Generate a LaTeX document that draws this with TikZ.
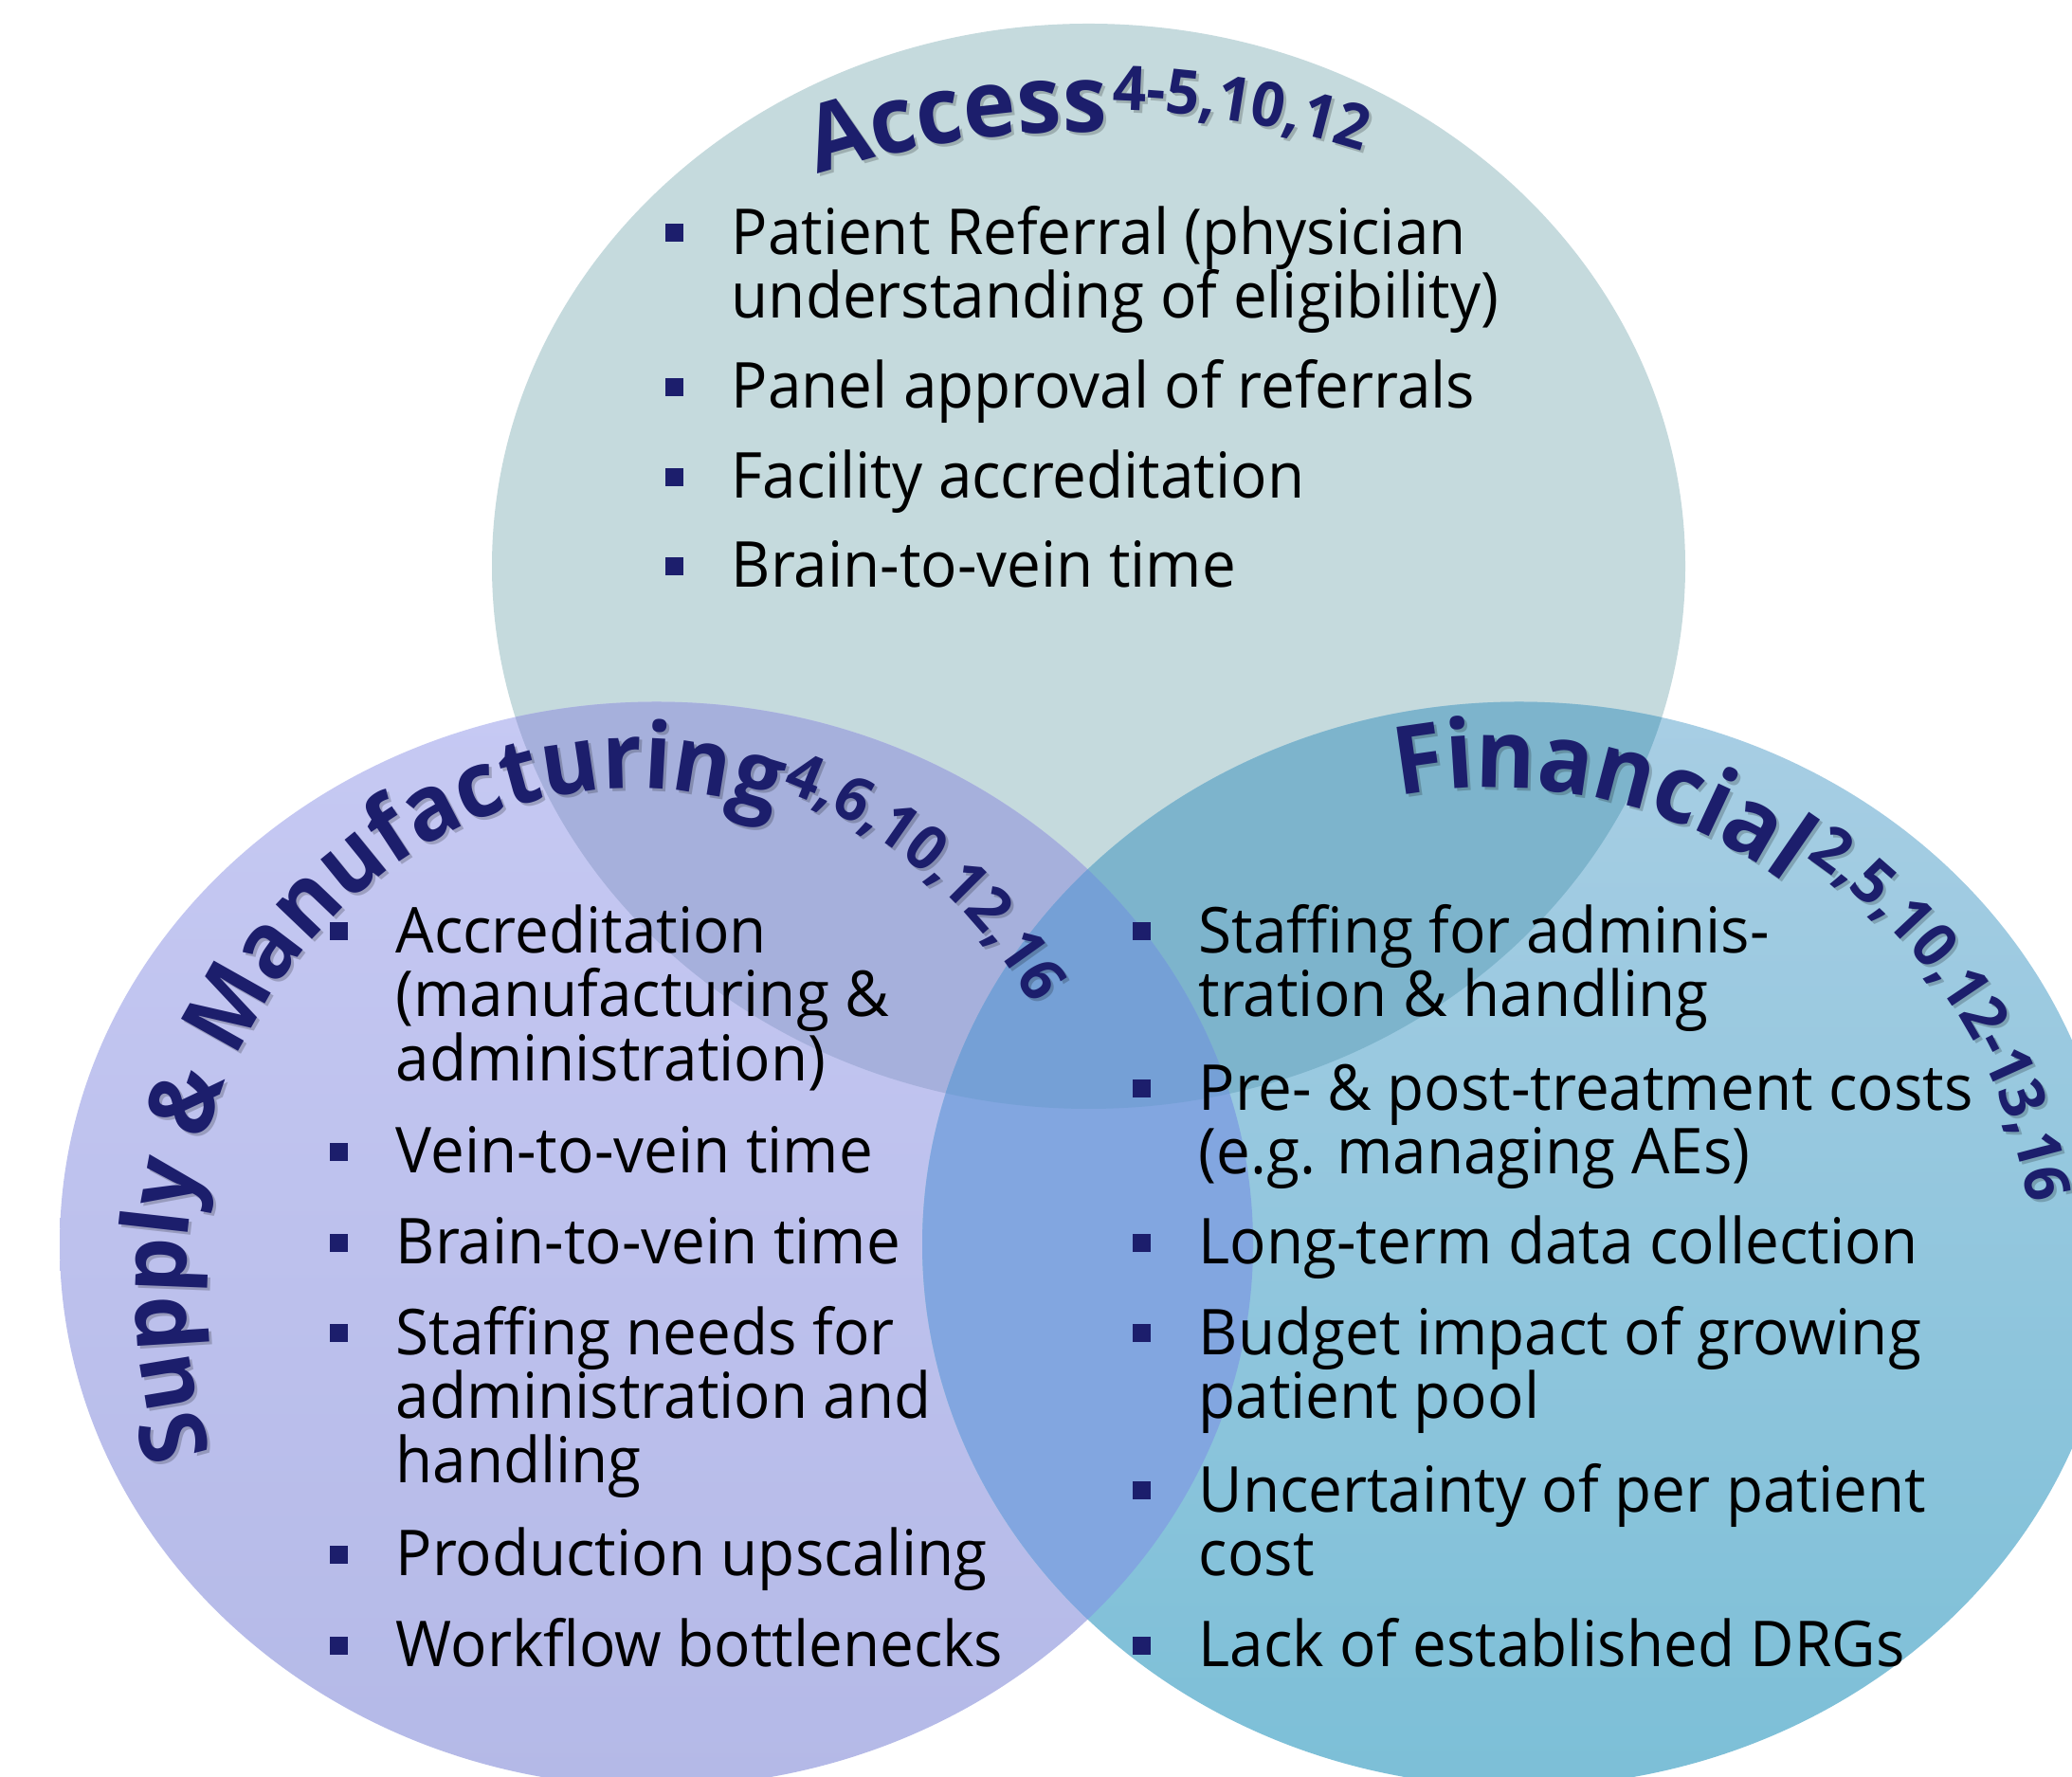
\documentclass[tikz,border=0pt]{standalone}
\usepackage{fontspec}
\setmainfont{Open Sans}[FakeStretch=0.955]
\usetikzlibrary{decorations.text}

\definecolor{navy}{RGB}{28,30,108}
\definecolor{accfill}{RGB}{197,218,221}
\definecolor{suptop}{RGB}{198,201,243}
\definecolor{supbot}{RGB}{180,185,231}
\definecolor{fintop}{RGB}{168,206,228}
\definecolor{finbot}{RGB}{124,191,215}
\definecolor{accsup}{RGB}{166,176,220}
\definecolor{accfin}{RGB}{125,180,204}
\definecolor{supfin}{RGB}{130,166,224}
\definecolor{allthree}{RGB}{117,160,214}

\newcommand{\titlefont}{\fontsize{28}{30}\selectfont\bfseries}
\newcommand{\suptitlefont}{\fontsize{27.5}{30}\selectfont\bfseries}
\newcommand{\fintitlefont}{\fontsize{28.5}{30}\selectfont\bfseries}
\newcommand{\reffont}{\fontsize{18.5}{18.5}\selectfont\bfseries}
\newcommand{\bodyfont}{\fontsize{19}{19.2}\selectfont}

\def\accell{(11.485,12.765) ellipse [x radius=6.295, y radius=5.725]}
\def\supell{(6.925,5.61) ellipse [x radius=6.295, y radius=5.725]}
\def\finell{(16.025,5.61) ellipse [x radius=6.295, y radius=5.725]}

\newlength{\accw}
\newlength{\finw}

\tikzset{
  itm/.style={anchor=base west, align=left, inner sep=0pt, font=\bodyfont},
  bul/.style={fill=navy, inner sep=0pt, minimum size=0.19cm},
}

\begin{document}
\settowidth{\accw}{\titlefont Access}
\settowidth{\finw}{\fintitlefont Financial}
\begin{tikzpicture}
  \useasboundingbox (0,0) rectangle (21.86,18.74);
  \clip (0,0) rectangle (21.86,18.74);
  \fill[white] (0,0) rectangle (21.86,18.74);

  \fill[accfill] \accell;
  \shade[top color=suptop, bottom color=supbot] \supell;
  \shade[top color=fintop, bottom color=finbot] \finell;
  \begin{scope}
    \clip \accell;
    \fill[accsup] \supell;
    \fill[accfin] \finell;
  \end{scope}
  \begin{scope}
    \clip \supell;
    \fill[supfin] \finell;
    \clip \accell;
    \fill[allthree] \finell;
  \end{scope}

  \pgfmathsetmacro{\accref}{108-deg(\accw/9.28cm)-0.3}
  \pgfmathsetmacro{\finref}{101-deg(\finw/5.23cm)+0.9}

  \foreach \dx/\col/\op in {0.03/black/0.2, 0/navy/1}{
    \begin{scope}[shift={(\dx,-\dx)}, opacity=\op]
      \path[decorate, decoration={text along path, text color=\col, text={|\titlefont|Access}}]
        ([shift={(108:9.28)}]11.49,8.07) arc[start angle=108, end angle=60, radius=9.28];
      \path[decorate, decoration={text along path, text color=\col, text={|\reffont|4-5,10,12}}]
        ([shift={(\accref:9.52)}]11.49,8.07) arc[start angle=\accref, end angle=50, radius=9.52];
      \path[decorate, decoration={text along path, text color=\col, text={|\suptitlefont|Supply {\&} Manufacturing}}]
        ([shift={(199.3:4.73 and 5.27)}]6.69,5.15) arc[start angle=199.3, end angle=60, x radius=4.73, y radius=5.27];
      \path[decorate, decoration={text along path, text color=\col, text={|\reffont|4,6,10,12,16}}]
        ([shift={(71.8:4.99 and 5.53)}]6.69,5.15) arc[start angle=71.8, end angle=0, x radius=4.99, y radius=5.53];
      \path[decorate, decoration={text along path, text color=\col, text={|\fintitlefont|Financial}}]
        ([shift={(101:5.23)}]15.75,5.2) arc[start angle=101, end angle=40, radius=5.23];
      \path[decorate, decoration={text along path, text color=\col, text={|\reffont|2,5,10,12-13,16}}]
        ([shift={(\finref:5.72 and 5.5)}]15.75,5.2) arc[start angle=\finref, end angle=-30, x radius=5.72, y radius=5.5];
    \end{scope}
  }

  \foreach \n/\y/\k/\txt in {1/16.06/2/{Patient Referral (physician\\understanding of eligibility)},
                            2/14.43/1/{Panel approval of referrals},
                            3/13.48/1/{Facility accreditation},
                            4/12.54/1/{Brain-to-vein time}}{
    \node[itm] (acc\n) at (7.71,{\y-(\k-1)*0.676}) {\txt};
    \node[bul] (accb\n) at ([shift={(-0.6,{0.22+(\k-1)*0.676})}]acc\n.base west) {};
  }

  \foreach \n/\y/\k/\txt in {1/8.69/3/{Accreditation\\(manufacturing \&\\administration)},
                            2/6.36/1/{Vein-to-vein time},
                            3/5.40/1/{Brain-to-vein time},
                            4/4.45/3/{Staffing needs for\\administration and\\handling},
                            5/2.11/1/{Production upscaling},
                            6/1.15/1/{Workflow bottlenecks}}{
    \node[itm] (sup\n) at (4.17,{\y-(\k-1)*0.676}) {\txt};
    \node[bul] (supb\n) at ([shift={(-0.6,{0.22+(\k-1)*0.676})}]sup\n.base west) {};
  }

  \foreach \n/\y/\k/\txt in {1/8.69/2/{Staffing for adminis-\\tration \& handling},
                            2/7.03/2/{Pre- \& post-treatment costs\\(e.g. managing AEs)},
                            3/5.40/1/{Long-term data collection},
                            4/4.45/2/{Budget impact of growing\\patient pool},
                            5/2.79/2/{Uncertainty of per patient\\cost},
                            6/1.15/1/{Lack of established DRGs}}{
    \node[itm] (fin\n) at (12.64,{\y-(\k-1)*0.676}) {\txt};
    \node[bul] (finb\n) at ([shift={(-0.6,{0.22+(\k-1)*0.676})}]fin\n.base west) {};
  }
\end{tikzpicture}
\end{document}
